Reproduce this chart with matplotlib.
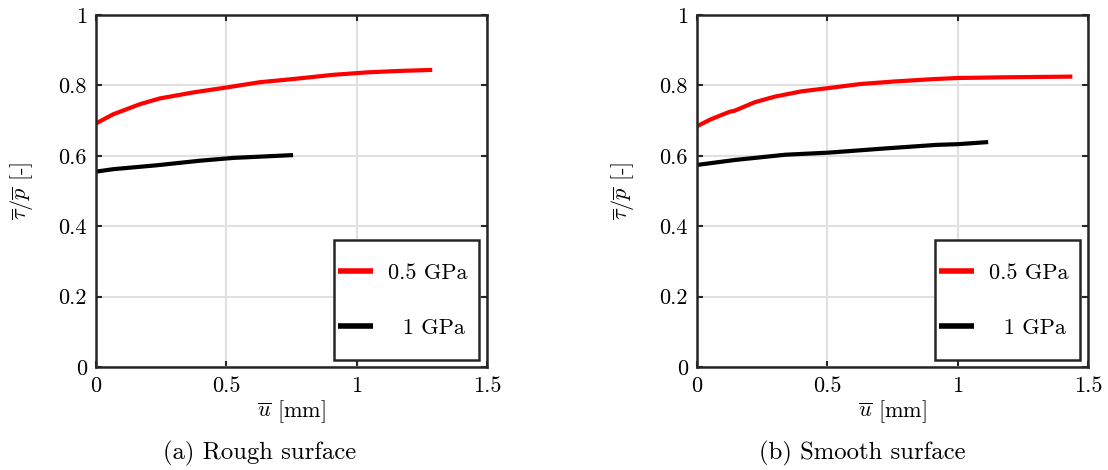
import matplotlib
matplotlib.use("Agg")
from matplotlib import pyplot as plt

plt.rcParams["font.family"] = "cmr10"
plt.rcParams["mathtext.fontset"] = "cm"
plt.rcParams["axes.unicode_minus"] = False
plt.rcParams["axes.formatter.use_mathtext"] = True

# (a) rough surface
rough_x_05 = [0, 0.066, 0.17, 0.245, 0.373, 0.5, 0.628, 0.755, 0.909, 1.04, 1.16, 1.29]
rough_y_05 = [0.692, 0.718, 0.747, 0.763, 0.780, 0.794, 0.809, 0.818, 0.830, 0.837, 0.841, 0.844]
rough_x_1 = [0, 0.066, 0.232, 0.398, 0.526, 0.756]
rough_y_1 = [0.555, 0.562, 0.573, 0.586, 0.594, 0.602]

# (b) smooth surface
smooth_x_05 = [0, 0.054, 0.125, 0.144, 0.221, 0.298, 0.40, 0.5, 0.628, 0.755, 0.909, 1.0, 1.175, 1.44]
smooth_y_05 = [0.684, 0.704, 0.725, 0.728, 0.752, 0.768, 0.783, 0.792, 0.804, 0.811, 0.818, 0.821, 0.823, 0.825]
smooth_x_1 = [0, 0.144, 0.338, 0.505, 0.724, 0.918, 1.0, 1.117]
smooth_y_1 = [0.574, 0.588, 0.603, 0.609, 0.621, 0.631, 0.633, 0.639]

labels = ["0.5 GPa ", "  1 GPa "]
xticks = [0, 0.5, 1, 1.5]
yticks = [0, 0.2, 0.4, 0.6, 0.8, 1]
captions = ["(a) Rough surface", "(b) Smooth surface"]

fig = plt.figure(figsize=(11.08, 4.70), dpi=100)
ax1 = fig.add_axes([96 / 1108, 103 / 470, 391 / 1108, 352 / 470])
ax2 = fig.add_axes([697 / 1108, 103 / 470, 391 / 1108, 352 / 470])

data = [
    (ax1, rough_x_05, rough_y_05, rough_x_1, rough_y_1),
    (ax2, smooth_x_05, smooth_y_05, smooth_x_1, smooth_y_1),
]

fs = 16
for ax, x05, y05, x1, y1 in data:
    ax.plot(x05, y05, color="#ff0000", lw=3, label=labels[0], solid_capstyle="butt")
    ax.plot(x1, y1, color="black", lw=3, label=labels[1], solid_capstyle="butt")
    ax.set_xlim(0, 1.5)
    ax.set_ylim(0, 1)
    ax.set_xticks(xticks)
    ax.set_yticks(yticks)
    ax.set_xticklabels(["0", "0.5", "1", "1.5"])
    ax.set_yticklabels(["0", "0.2", "0.4", "0.6", "0.8", "1"])
    ax.grid(True, color="#e0e0e0", lw=1.5)
    ax.set_axisbelow(True)
    ax.tick_params(direction="in", top=True, right=True, length=4, width=1.5,
                   color="#262626", labelsize=fs, pad=6.5)
    for s in ax.spines.values():
        s.set_linewidth(1.8)
        s.set_color("#262626")
    ax.set_xlabel(r"$\overline{u}$ [mm]", fontsize=fs, labelpad=2)
    ax.set_ylabel(r"$\overline{\tau}/\overline{p}$ [-]", fontsize=fs, labelpad=17)
    leg = ax.legend(loc="lower right", bbox_to_anchor=(0.98, 0.02), fontsize=fs,
                    handlelength=1.6, handleheight=3.55, handletextpad=0.68,
                    labelspacing=-0.077, borderpad=0.18, fancybox=False,
                    framealpha=1, edgecolor="#262626", borderaxespad=0)
    leg.get_frame().set_linewidth(1.8)
    # put the legend lines level with the middle of the text
    for line in leg.get_lines():
        line.set_linewidth(4)
        line.set_ydata([0.34 * fs] * len(line.get_xdata()))

fig.text(260 / 1108, 17 / 470, captions[0], ha="center", va="center", fontsize=17.8)
fig.text(862 / 1108, 17 / 470, captions[1], ha="center", va="center", fontsize=17.8)

fig.savefig("out.png", dpi=100)
